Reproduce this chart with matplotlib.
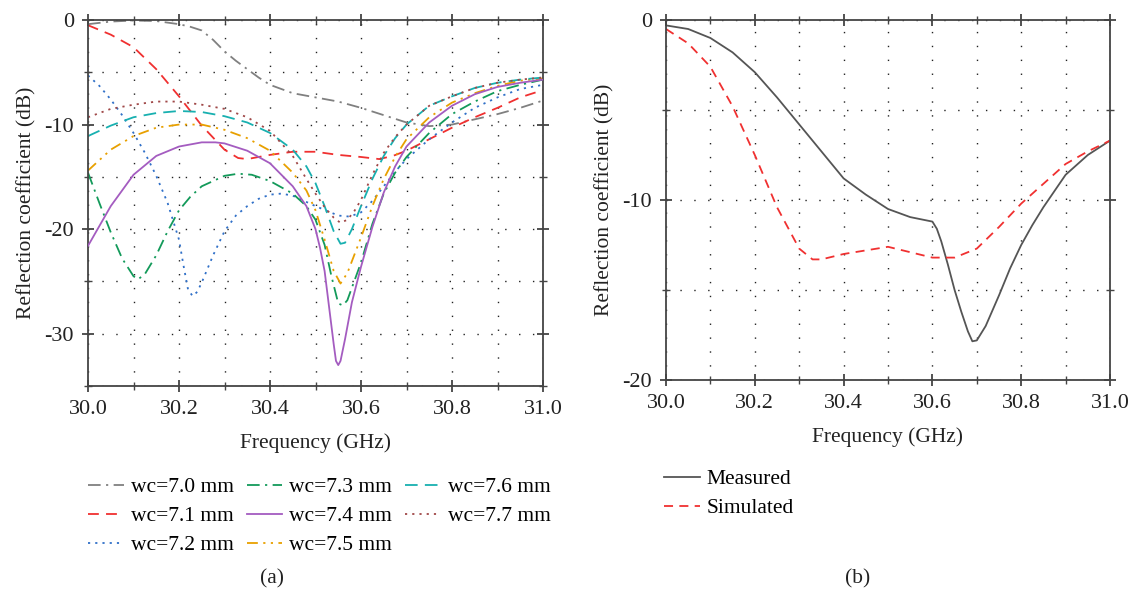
import matplotlib
matplotlib.use("Agg")
import matplotlib.pyplot as plt
import numpy as np

plt.rcParams['font.family'] = ['Liberation Serif', 'DejaVu Serif']

# ---------------- data (a) ----------------
freq_70 = [30.0, 30.05, 30.1, 30.15, 30.2, 30.225, 30.25, 30.275, 30.3, 30.325, 30.35, 30.375,
           30.4, 30.45, 30.5, 30.55, 30.6, 30.65, 30.7, 30.75, 30.8, 30.85, 30.9, 30.95, 31.0]
wc70 = [-0.4, -0.15, -0.05, -0.1, -0.4, -0.65, -1.0, -1.9, -3.0, -3.9, -4.7, -5.5,
        -6.2, -7.0, -7.4, -7.8, -8.4, -9.1, -9.8, -10.15, -10.0, -9.5, -9.0, -8.4, -7.7]

freq_71 = [30.0, 30.05, 30.1, 30.15, 30.2, 30.25, 30.3, 30.33, 30.35, 30.4, 30.45, 30.5,
           30.55, 30.6, 30.64, 30.67, 30.7, 30.75, 30.8, 30.85, 30.9, 30.95, 31.0]
wc71 = [-0.5, -1.4, -2.6, -4.7, -7.3, -10.1, -12.4, -13.2, -13.3, -12.9, -12.6, -12.6,
        -12.9, -13.1, -13.3, -13.0, -12.5, -11.4, -10.3, -9.3, -8.4, -7.4, -6.7]

freq_72 = [30.0, 30.025, 30.05, 30.075, 30.1, 30.125, 30.15, 30.175, 30.2, 30.21, 30.22, 30.23,
           30.24, 30.25, 30.275, 30.3, 30.325, 30.35, 30.375, 30.4, 30.425, 30.45, 30.5, 30.55,
           30.575, 30.6, 30.625, 30.65, 30.675, 30.7, 30.75, 30.8, 30.85, 30.9, 30.95, 31.0]
wc72 = [-5.3, -6.3, -7.6, -9.1, -10.8, -12.7, -14.9, -17.5, -21.0, -23.5, -25.8, -26.4,
        -26.0, -25.1, -22.5, -20.2, -18.7, -17.8, -17.1, -16.7, -16.6, -16.8, -17.8, -18.7,
        -18.8, -18.4, -17.3, -15.9, -14.5, -13.3, -11.4, -9.8, -8.4, -7.4, -6.6, -6.2]

freq_73 = [30.0, 30.025, 30.05, 30.075, 30.1, 30.11, 30.125, 30.15, 30.175, 30.2, 30.225, 30.25,
           30.3, 30.33, 30.36, 30.4, 30.45, 30.48, 30.5, 30.52, 30.535, 30.55, 30.56, 30.57,
           30.585, 30.6, 30.625, 30.65, 30.675, 30.7, 30.75, 30.8, 30.85, 30.9, 30.95, 31.0]
wc73 = [-14.6, -17.5, -20.3, -22.8, -24.5, -24.8, -24.3, -22.5, -20.2, -18.2, -16.9, -15.9,
        -14.9, -14.7, -14.8, -15.4, -16.6, -17.8, -19.1, -21.5, -24.5, -27.1, -27.3, -26.8,
        -25.0, -23.2, -19.5, -16.6, -14.6, -13.1, -10.8, -9.0, -7.8, -6.8, -6.2, -5.7]

freq_74 = [30.0, 30.05, 30.1, 30.15, 30.2, 30.25, 30.28, 30.3, 30.35, 30.4, 30.45, 30.48,
           30.5, 30.51, 30.52, 30.53, 30.54, 30.545, 30.55, 30.555, 30.565, 30.58, 30.6, 30.625,
           30.65, 30.675, 30.7, 30.75, 30.8, 30.85, 30.9, 30.95, 31.0]
wc74 = [-21.6, -17.8, -14.8, -13.0, -12.1, -11.7, -11.7, -11.8, -12.5, -13.7, -15.9, -17.8,
        -20.0, -21.8, -24.0, -27.5, -31.0, -32.6, -33.0, -32.6, -30.5, -27.0, -23.6, -19.8,
        -16.5, -14.0, -12.1, -9.8, -8.2, -7.1, -6.4, -6.0, -5.7]

freq_75 = [30.0, 30.05, 30.1, 30.15, 30.2, 30.25, 30.3, 30.35, 30.4, 30.45, 30.48, 30.5,
           30.52, 30.54, 30.555, 30.57, 30.585, 30.6, 30.625, 30.65, 30.675, 30.7, 30.75,
           30.8, 30.85, 30.9, 30.95, 31.0]
wc75 = [-14.4, -12.4, -11.1, -10.3, -10.0, -10.0, -10.5, -11.3, -12.5, -14.6, -16.3, -18.2,
        -21.0, -24.0, -25.2, -24.2, -22.5, -20.8, -17.8, -15.2, -13.1, -11.4, -9.3,
        -7.9, -7.0, -6.3, -5.8, -5.6]

freq_76 = [30.0, 30.05, 30.1, 30.15, 30.2, 30.25, 30.3, 30.35, 30.4, 30.45, 30.48, 30.5,
           30.52, 30.54, 30.555, 30.565, 30.58, 30.6, 30.625, 30.65, 30.675, 30.7, 30.75,
           30.8, 30.85, 30.9, 30.95, 31.0]
wc76 = [-11.1, -10.1, -9.3, -8.9, -8.7, -8.8, -9.2, -9.8, -10.8, -12.4, -14.0, -15.6,
        -17.8, -20.2, -21.4, -21.3, -20.0, -17.8, -15.2, -13.0, -11.3, -10.0, -8.2,
        -7.3, -6.5, -6.0, -5.7, -5.5]

freq_77 = [30.0, 30.05, 30.1, 30.15, 30.2, 30.25, 30.3, 30.35, 30.4, 30.45, 30.48, 30.5,
           30.52, 30.54, 30.555, 30.57, 30.585, 30.6, 30.625, 30.65, 30.675, 30.7, 30.75,
           30.8, 30.85, 30.9, 30.95, 31.0]
wc77 = [-9.3, -8.5, -8.1, -7.8, -7.8, -8.1, -8.5, -9.3, -10.6, -13.0, -15.2, -16.6,
        -17.9, -18.9, -19.4, -19.1, -18.3, -17.2, -14.8, -12.7, -11.2, -10.0, -8.2,
        -7.3, -6.5, -6.0, -5.7, -5.5]

labels_a = ["wc=7.0 mm", "wc=7.1 mm", "wc=7.2 mm", "wc=7.3 mm",
            "wc=7.4 mm", "wc=7.5 mm", "wc=7.6 mm", "wc=7.7 mm"]

# ---------------- data (b) ----------------
freq_m = [30.0, 30.05, 30.1, 30.15, 30.2, 30.25, 30.3, 30.35, 30.4, 30.45, 30.5,
          30.55, 30.6, 30.61, 30.62, 30.635, 30.65, 30.665, 30.68, 30.69, 30.7, 30.72,
          30.75, 30.775, 30.8, 30.825, 30.85, 30.9, 30.95, 31.0]
measured = [-0.3, -0.5, -1.0, -1.8, -2.9, -4.3, -5.8, -7.3, -8.8, -9.7, -10.5,
            -10.95, -11.2, -11.6, -12.3, -13.6, -15.0, -16.2, -17.3, -17.85, -17.8, -17.0,
            -15.3, -13.8, -12.5, -11.4, -10.4, -8.6, -7.5, -6.7]
freq_s = [30.0, 30.05, 30.1, 30.15, 30.2, 30.25, 30.3, 30.33, 30.35, 30.4, 30.45, 30.5,
          30.55, 30.6, 30.65, 30.7, 30.75, 30.8, 30.85, 30.9, 30.95, 31.0]
simulated = [-0.5, -1.3, -2.6, -4.8, -7.5, -10.4, -12.7, -13.3, -13.3, -13.0, -12.8, -12.6,
             -12.9, -13.2, -13.2, -12.7, -11.5, -10.2, -9.1, -8.0, -7.3, -6.7]

# ---------------- figure ----------------
W, H = 1136, 593
fig = plt.figure(figsize=(W / 100, H / 100), dpi=100)

def px_axes(x0, y0, x1, y1):
    return fig.add_axes([x0 / W, 1 - y1 / H, (x1 - x0) / W, (y1 - y0) / H])

axA = px_axes(88, 20, 543, 386)
axB = px_axes(666, 20, 1110, 380)

spine_c = '#444444'
txt_c = '#222222'
tick_fs = 16
lab_fs = 15.5
leg_fs = 15.5

def style(ax, ymin, ymaj, yminor):
    ax.set_xlim(30.0, 31.0)
    ax.set_ylim(ymin, 0)
    ax.set_xticks(np.arange(30.0, 31.01, 0.2))
    ax.set_xticks(np.arange(30.1, 31.0, 0.2), minor=True)
    ax.set_xticklabels(["%.1f" % v for v in np.arange(30.0, 31.01, 0.2)])
    ax.set_yticks(ymaj)
    ax.set_yticks(yminor, minor=True)
    ax.set_yticklabels(["%d" % v for v in ymaj])
    for s in ax.spines.values():
        s.set_color(spine_c)
        s.set_linewidth(1.3)
    ax.tick_params(which='both', direction='inout', top=True, right=True,
                   color=spine_c, labelsize=tick_fs, labelcolor=txt_c)
    ax.tick_params(which='major', length=8, width=1.3)
    ax.tick_params(which='minor', length=6, width=1.0)
    ax.tick_params(axis='x', pad=6)
    ax.tick_params(axis='y', pad=6)
    ax.grid(True, which='both', color='#222222', linestyle=(0, (1, 9)), linewidth=1.0)
    ax.set_xlabel("Frequency (GHz)", fontsize=lab_fs, color=txt_c, labelpad=10)
    ax.set_ylabel("Reflection coefficient (dB)", fontsize=lab_fs, color=txt_c, labelpad=6)

style(axA, -35, [0, -10, -20, -30], [-5, -15, -25, -35])
style(axB, -20, [0, -10, -20], [-5, -15])

lw = 1.3
hA = []
hA.append(axA.plot(freq_70, wc70, color='#808080', lw=lw, ls=(0, (7, 3, 1.2, 3)))[0])
hA.append(axA.plot(freq_71, wc71, color='#f03030', lw=lw, ls=(0, (6, 4)))[0])
hA.append(axA.plot(freq_72, wc72, color='#3070c8', lw=lw, ls=(0, (1.2, 2.8)))[0])
hA.append(axA.plot(freq_73, wc73, color='#139a5a', lw=lw, ls=(0, (7, 3, 1.2, 3)))[0])
hA.append(axA.plot(freq_74, wc74, color='#a45cc0', lw=lw, ls='-', zorder=3)[0])
hA.append(axA.plot(freq_75, wc75, color='#e8a000', lw=lw, ls=(0, (6, 3, 1.2, 3, 1.2, 3)))[0])
hA.append(axA.plot(freq_76, wc76, color='#18b0b0', lw=lw, ls=(0, (7, 4)))[0])
hA.append(axA.plot(freq_77, wc77, color='#a04848', lw=lw, ls=(0, (1.2, 2.8)))[0])

fig.legend(hA, labels_a,
           ncol=3, loc='upper left', bbox_to_anchor=(88 / W, 1 - 477 / H),
           frameon=False, fontsize=leg_fs, handlelength=1.65, handletextpad=0.33,
           columnspacing=0.6, labelspacing=0.42, borderaxespad=0, borderpad=0)

hm, = axB.plot(freq_m, measured, color='#555555', lw=lw, ls='-')
hs, = axB.plot(freq_s, simulated, color='#f03030', lw=lw, ls=(0, (5, 3.5)))
fig.legend([hm, hs], ["Measured", "Simulated"], loc='upper left',
           bbox_to_anchor=(664 / W, 1 - 469 / H), frameon=False, fontsize=leg_fs,
           handlelength=1.65, handletextpad=0.33, labelspacing=0.42, borderaxespad=0, borderpad=0)

fig.text(272 / W, 1 - 579 / H, "(a)", ha='center', va='center', fontsize=leg_fs, color=txt_c)
fig.text(858 / W, 1 - 579 / H, "(b)", ha='center', va='center', fontsize=leg_fs, color=txt_c)

fig.savefig("out.png", dpi=100)
